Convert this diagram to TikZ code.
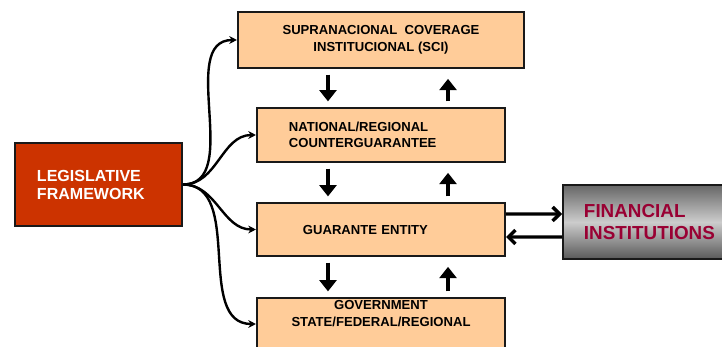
\documentclass[tikz,border=0pt]{standalone}
\usepackage{fontspec}
\setmainfont{Liberation Sans}
\usetikzlibrary{arrows.meta,positioning}
\definecolor{legred}{HTML}{CC3300}
\definecolor{peach}{HTML}{FFCC99}
\definecolor{finred}{HTML}{990033}

\begin{document}
\begin{tikzpicture}[x=0.025cm, y=-0.025cm,
    every node/.style={inner sep=2pt},
    levelbox/.style={draw=black!90, line width=1.4pt, fill=peach,
      font=\fontsize{9.3}{11.8}\selectfont\bfseries},
    flow/.style={line width=2.9pt, -{Triangle[length=8pt,width=12pt]}},
    link/.style={line width=1.7pt, -{Stealth[length=5.5pt,width=5.5pt]}},
    swap/.style={line width=2.4pt, -{Straight Barb[length=5pt,width=10pt]}}]
    \useasboundingbox (0,0) rectangle (722,347);
    \node[levelbox, fill=legred, text=white, minimum width=4.175cm, minimum height=2.075cm,
      text width=3.075cm, align=left, font=\fontsize{11.4}{12.8}\selectfont\bfseries]
      (leg) at (98.5,184.5) {LEGISLATIVE\\FRAMEWORK};
    \node[levelbox, minimum width=7.15cm, minimum height=1.4cm, align=center]
      (sci) at (381,40) {SUPRANACIONAL~ COVERAGE\\INSTITUCIONAL (SCI)};
    \node[levelbox, minimum width=6.2cm, minimum height=1.35cm, text width=4.6cm, align=left]
      (nat) at (381,135) {NATIONAL/REGIONAL\\COUNTERGUARANTEE};
    \node[levelbox, minimum width=6.2cm, minimum height=1.325cm, text width=3.9cm, align=left]
      (guar) at (381,229.5) {GUARANTE ENTITY};
    \node[levelbox, minimum width=6.2cm, minimum height=1.3cm] (gov) at (381,324) {};
    \node[font=\fontsize{9.3}{11.8}\selectfont\bfseries, align=center, inner sep=1pt,
      below=1.5pt of gov.north] (govtext) {GOVERNMENT\\STATE/FEDERAL/REGIONAL};
    \node[draw=black!90, line width=1.4pt, top color=black!60, bottom color=black!65,
      middle color=black!20, minimum width=4.55cm, minimum height=1.85cm,
      text width=3.5cm, align=left, text=finred, font=\fontsize{13.4}{15}\selectfont\bfseries]
      (fin) at (654,222) {FINANCIAL\\INSTITUTIONS};

    \foreach \t in {sci,nat,guar,gov}
      \draw[link] (leg.east) to[out=0,in=180] (\t.west);

    \draw[flow, shorten <=4pt, shorten >=4pt] ([xshift=-1.325cm]sci.south) -- ([xshift=-1.325cm]nat.north);
    \draw[flow, shorten <=4pt, shorten >=4pt] ([xshift=-1.325cm]nat.south) -- ([xshift=-1.325cm]guar.north);
    \draw[flow, shorten <=4pt, shorten >=4pt] ([xshift=-1.325cm]guar.south) -- ([xshift=-1.325cm]gov.north);
    \draw[flow, shorten <=4pt, shorten >=7pt] ([xshift=1.675cm]nat.north) -- ([xshift=1.675cm]sci.south);
    \draw[flow, shorten <=4pt, shorten >=7pt] ([xshift=1.675cm]guar.north) -- ([xshift=1.675cm]nat.south);
    \draw[flow, shorten <=4pt, shorten >=7pt] ([xshift=1.675cm]gov.north) -- ([xshift=1.675cm]guar.south);

    \draw[swap] ([yshift=0.3875cm]guar.east) -- ([yshift=0.2cm]fin.west);
    \draw[swap] ([yshift=-0.375cm]fin.west) -- ([yshift=-0.1875cm]guar.east);
\end{tikzpicture}
\end{document}
